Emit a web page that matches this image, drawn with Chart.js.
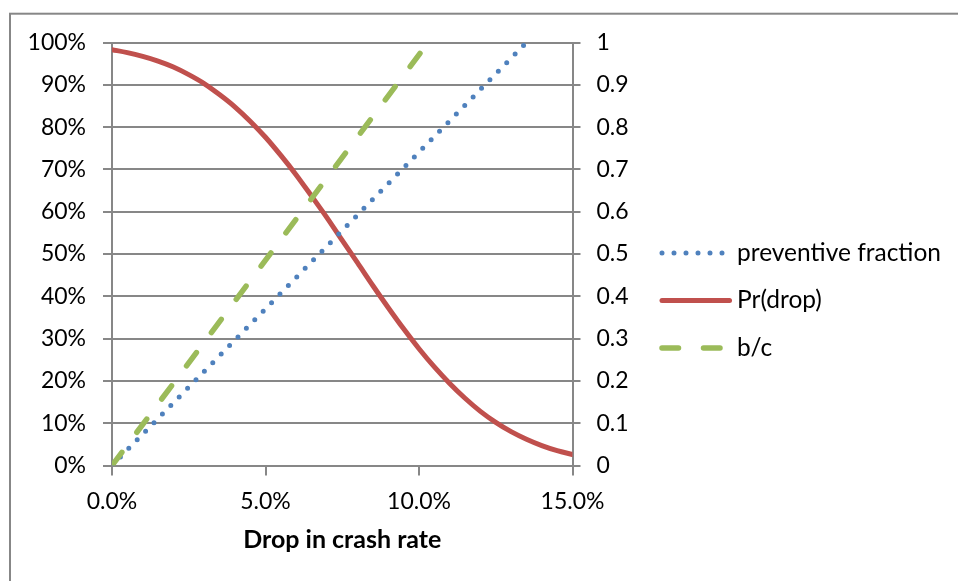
<!DOCTYPE html>
<html>
<head>
<meta charset="utf-8">
<script src="https://cdn.jsdelivr.net/npm/chart.js@4.4.1/dist/chart.umd.min.js"></script>
<style>
  html, body { margin: 0; padding: 0; background: #ffffff; }
  #wrap { width: 958px; height: 581px; position: relative; }
</style>
</head>
<body>
<div id="wrap"><canvas id="chart" width="958" height="581"></canvas></div>
<script>
// Drop in crash rate (%), sampled every half point
const dropInCrashRate = [0, 0.5, 1, 1.5, 2, 2.5, 3, 3.5, 4, 4.5, 5, 5.5, 6, 6.5, 7, 7.5,
  8, 8.5, 9, 9.5, 10, 10.5, 11, 11.5, 12, 12.5, 13, 13.5, 14, 14.5, 15];
// Probability of achieving the drop
const prDrop = [0.983, 0.976, 0.967, 0.956, 0.942, 0.924, 0.903, 0.877, 0.848, 0.814,
  0.776, 0.733, 0.687, 0.637, 0.586, 0.532, 0.479, 0.425, 0.373, 0.323,
  0.276, 0.233, 0.194, 0.159, 0.128, 0.102, 0.080, 0.062, 0.047, 0.035, 0.026];
// Preventive fraction (secondary axis)
const preventiveX = [0, 13.5];
const preventiveFraction = [0, 1.0];
// Benefit / cost ratio (secondary axis)
const benefitCostX = [0, 10.05];
const benefitCost = [0, 0.976];

// Tick labels
const xTickLabels = ['0.0%', '5.0%', '10.0%', '15.0%'];
const leftTickLabels = ['0%', '10%', '20%', '30%', '40%', '50%', '60%', '70%', '80%', '90%', '100%'];
const rightTickLabels = ['0', '0.1', '0.2', '0.3', '0.4', '0.5', '0.6', '0.7', '0.8', '0.9', '1'];

const toPoints = (xs, ys) => xs.map((x, i) => ({ x: x, y: ys[i] }));

const GRID = '#878787';
const FONT = 'Lato, "Open Sans", sans-serif';

Chart.defaults.font.family = FONT;
Chart.defaults.font.size = 23;
Chart.defaults.color = '#000000';

// Outer frame of the chart object
const framePlugin = {
  id: 'frame',
  beforeDraw(chart) {
    const ctx = chart.ctx;
    ctx.save();
    ctx.fillStyle = '#ffffff';
    ctx.fillRect(0, 0, chart.width, chart.height);
    ctx.strokeStyle = GRID;
    ctx.lineWidth = 2;
    ctx.strokeRect(10, 13.7, 3000, 3000);
    ctx.restore();
  }
};

// Legend on the right with line samples
const sideLegend = {
  id: 'sideLegend',
  afterDraw(chart) {
    const ctx = chart.ctx;
    const x0 = 662, x1 = 729.5, textX = 737, firstY = 253, rowGap = 47.5;
    chart.data.datasets.forEach((ds, i) => {
      const y = firstY + i * rowGap;
      ctx.save();
      ctx.strokeStyle = ds.borderColor;
      ctx.lineWidth = ds.borderWidth;
      ctx.lineCap = ds.borderCapStyle || 'butt';
      ctx.setLineDash(ds.borderDash || []);
      ctx.beginPath();
      ctx.moveTo(x0, y);
      ctx.lineTo(x1, y);
      ctx.stroke();
      ctx.setLineDash([]);
      ctx.fillStyle = '#000000';
      ctx.font = '24.5px ' + FONT;
      ctx.textBaseline = 'middle';
      ctx.textAlign = 'left';
      ctx.fillText(ds.label, textX, y);
      ctx.restore();
    });
  }
};

new Chart(document.getElementById('chart'), {
  type: 'line',
  data: {
    datasets: [
      {
        label: 'preventive fraction',
        data: toPoints(preventiveX, preventiveFraction),
        yAxisID: 'y2',
        borderColor: '#4F81BD',
        borderWidth: 5,
        borderDash: [0, 12],
        borderCapStyle: 'round',
        pointRadius: 0,
        fill: false,
        order: 1
      },
      {
        label: 'Pr(drop)',
        data: toPoints(dropInCrashRate, prDrop),
        yAxisID: 'y',
        borderColor: '#C0504D',
        borderWidth: 5,
        borderCapStyle: 'round',
        cubicInterpolationMode: 'monotone',
        pointRadius: 0,
        fill: false,
        order: 2
      },
      {
        label: 'b/c',
        data: toPoints(benefitCostX, benefitCost),
        yAxisID: 'y2',
        borderColor: '#9BBB59',
        borderWidth: 5.5,
        borderDash: [16.5, 25],
        borderCapStyle: 'round',
        pointRadius: 0,
        fill: false,
        order: 0
      }
    ]
  },
  options: {
    responsive: false,
    animation: false,
    devicePixelRatio: 1,
    layout: { padding: { left: 0, top: 42.5, right: 325.5, bottom: 0 } },
    plugins: { legend: { display: false }, tooltip: { enabled: false } },
    scales: {
      x: {
        type: 'linear',
        min: 0, max: 15,
        ticks: { stepSize: 5, padding: 12, maxRotation: 0,
          callback: (v, i) => xTickLabels[i] },
        grid: { drawOnChartArea: false, drawTicks: true, tickLength: 10, color: GRID, lineWidth: 2 },
        border: { display: true, color: GRID, width: 2 },
        title: { display: true, text: 'Drop in crash rate',
          font: { size: 25, weight: 'bold' }, padding: { top: 0, bottom: 26 } },
        afterFit: (axis) => { axis.height = 115.5; }
      },
      y: {
        position: 'left',
        min: 0, max: 1,
        ticks: { stepSize: 0.1, padding: 17, callback: (v, i) => leftTickLabels[i] },
        grid: { drawOnChartArea: true, drawTicks: true, tickLength: 9, color: GRID, lineWidth: 2 },
        border: { display: true, color: GRID, width: 2 },
        afterFit: (axis) => { axis.width = 112; }
      },
      y2: {
        position: 'right',
        min: 0, max: 1,
        ticks: { stepSize: 0.1, padding: 16, callback: (v, i) => rightTickLabels[i] },
        grid: { drawOnChartArea: false, drawTicks: true, tickLength: 8, color: GRID, lineWidth: 2 },
        border: { display: true, color: GRID, width: 2 },
        afterFit: (axis) => { axis.width = 60; }
      }
    }
  },
  plugins: [framePlugin, sideLegend]
});
</script>
</body>
</html>
